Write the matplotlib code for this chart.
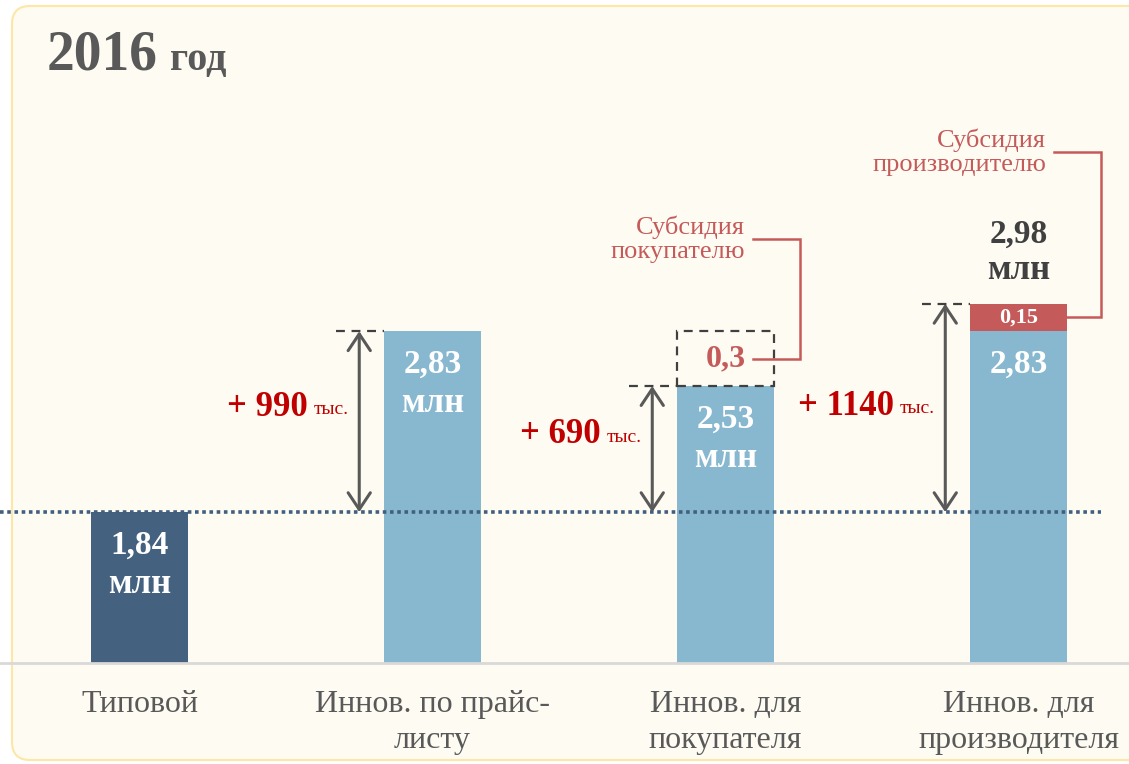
import matplotlib

matplotlib.use("Agg")
import matplotlib.pyplot as plt
from matplotlib.patches import FancyBboxPatch, Rectangle

plt.rcParams["font.family"] = ["Liberation Serif", "DejaVu Serif"]

# data
categories = ["Типовой", "Иннов. по прайс-\nлисту", "Иннов. для\nпокупателя", "Иннов. для\nпроизводителя"]
base_values = [1.84, 2.83, 2.53, 2.83]
subsidy_values = [0.0, 0.0, 0.3, 0.15]
subsidy_kind = [None, None, "buyer", "producer"]
subsidy_titles = {"buyer": "Субсидия\nпокупателю", "producer": "Субсидия\nпроизводителю"}
title_year = "2016"
title_unit = "год"

# colours
BG = "#FEFBF2"
BORDER = "#FCE7A6"
DARK_BAR = "#44627F"
LIGHT_BAR = "#87B8D0"
RED_SEG = "#C55A5A"
RED_TXT = "#C00000"
GRAY = "#595959"
DARK = "#404040"
DOTTED = "#41607F"

W, H = 1129, 764
PX = 72 / 100  # px -> pt

fig = plt.figure(figsize=(W / 100, H / 100), dpi=100, facecolor="white")
panel = FancyBboxPatch((12, 4), 1300, 754, boxstyle="round,pad=0,rounding_size=18",
                       transform=None, facecolor=BG, edgecolor=BORDER, linewidth=1.5, zorder=-5)
fig.patches.append(panel)

fig.text(47 / W, 1 - 70 / H, title_year, fontsize=40, fontweight="bold", color=GRAY, va="baseline")
fig.text(170 / W, 1 - 70 / H, title_unit, fontsize=29, fontweight="bold", color=GRAY, va="baseline")

ax = fig.add_axes([0, 101 / H, 1, 583 / H])
ax.set_zorder(1)
ax.set_facecolor("none")
ax.set_xlim(-0.476, 3.377)
ymin, ymax = 1.015, 4.204
ax.set_ylim(ymin, ymax)
ax.axis("off")

x = list(range(len(categories)))
bw = 0.331
colors = [DARK_BAR] + [LIGHT_BAR] * (len(categories) - 1)
ax.bar(x, base_values, width=bw, color=colors, zorder=2)

ref = base_values[0]
ax.axhline(ymin, color="#D9D9D9", lw=2, zorder=4, clip_on=False)
ax.plot([-0.476, 3.28], [ref, ref], color=DOTTED, lw=2.6, linestyle=(0, (1, 1)),
        dash_capstyle="butt", zorder=3)


def fmt(v, nd=2):
    return f"{v:.{nd}f}".replace(".", ",")


for i, (cat, b, s, kind) in enumerate(zip(categories, base_values, subsidy_values, subsidy_kind)):
    # value inside bar
    ax.annotate(fmt(b), (i, b), xytext=(0, -33 * PX), textcoords="offset points",
                ha="center", va="center", fontsize=24, fontweight="bold", color="white", zorder=5)
    if kind != "producer":
        ax.annotate("млн", (i, b), xytext=(0, -72 * PX), textcoords="offset points",
                    ha="center", va="center", fontsize=25, fontweight="bold", color="white", zorder=5)

    # category label
    ax.annotate(cat, (i, ymin), xytext=(0, -27 * PX), textcoords="offset points",
                ha="center", va="top", fontsize=23, color=GRAY, linespacing=1.3,
                annotation_clip=False)

    if kind == "buyer":
        ax.add_patch(Rectangle((i - bw / 2, b), bw, s, fill=False, edgecolor=DARK,
                               lw=1.6, linestyle=(0, (4, 3)), zorder=3))
        ax.text(i, b + s / 2, f"{s:g}".replace(".", ","), ha="center", va="center",
                fontsize=23, fontweight="bold", color=RED_SEG)
    elif kind == "producer":
        ax.bar(i, s, bottom=b, width=bw, color=RED_SEG, zorder=2)
        ax.text(i, b + s / 2, f"{s:g}".replace(".", ","), ha="center", va="center",
                fontsize=16, fontweight="bold", color="white", zorder=5)
        ax.annotate(fmt(b + s), (i, b + s), xytext=(0, 70 * PX), textcoords="offset points",
                    ha="center", va="center", fontsize=24, fontweight="bold", color=DARK)
        ax.annotate("млн", (i, b + s), xytext=(0, 33 * PX), textcoords="offset points",
                    ha="center", va="center", fontsize=25, fontweight="bold", color=DARK)

    if i == 0:
        continue

    top = b + s if kind == "producer" else b
    # difference arrow
    ax.annotate("", xy=(i - 0.25, top), xytext=(i - 0.25, ref),
                arrowprops=dict(arrowstyle="<->,head_length=0.6,head_width=0.4", color=GRAY,
                                lw=2.2, mutation_scale=20, shrinkA=0, shrinkB=0), zorder=3)
    ax.plot([i - 0.33, i - bw / 2], [top, top], color=DARK, lw=1.6, linestyle=(0, (4, 3)), zorder=3)
    delta = round((top - ref) * 1000)
    ymid = (top + ref) / 2 + (0.01 if kind == "producer" else 0.08)
    ax.text(i - 0.425, ymid, f"+ {delta}", ha="right", va="center",
            fontsize=25, fontweight="bold", color=RED_TXT)
    ax.annotate("тыс.", (i - 0.425, ymid), xytext=(4, -2), textcoords="offset points",
                ha="left", va="center", fontsize=14, color=RED_TXT)

# subsidy callouts
callout_y = {"buyer": 3.334, "producer": 3.81}
for i, (b, s, kind) in enumerate(zip(base_values, subsidy_values, subsidy_kind)):
    if kind is None:
        continue
    cy = callout_y[kind]
    ymid_seg = b + s / 2
    if kind == "buyer":
        x0, xv, xt, xl = i + 0.094, i + 0.254, i + 0.067, i + 0.094
    else:
        x0, xv, xt, xl = i + bw / 2, i + 0.281, i + 0.094, i + 0.121
    ax.plot([x0, xv, xv, xl], [ymid_seg, ymid_seg, cy, cy], color=RED_SEG, lw=1.8,
            solid_joinstyle="miter", zorder=3)
    ax.text(xt, cy, subsidy_titles[kind], ha="right", va="center", fontsize=19,
            color=RED_SEG, linespacing=1.15)

fig.savefig("out.png", dpi=100, facecolor="white")
